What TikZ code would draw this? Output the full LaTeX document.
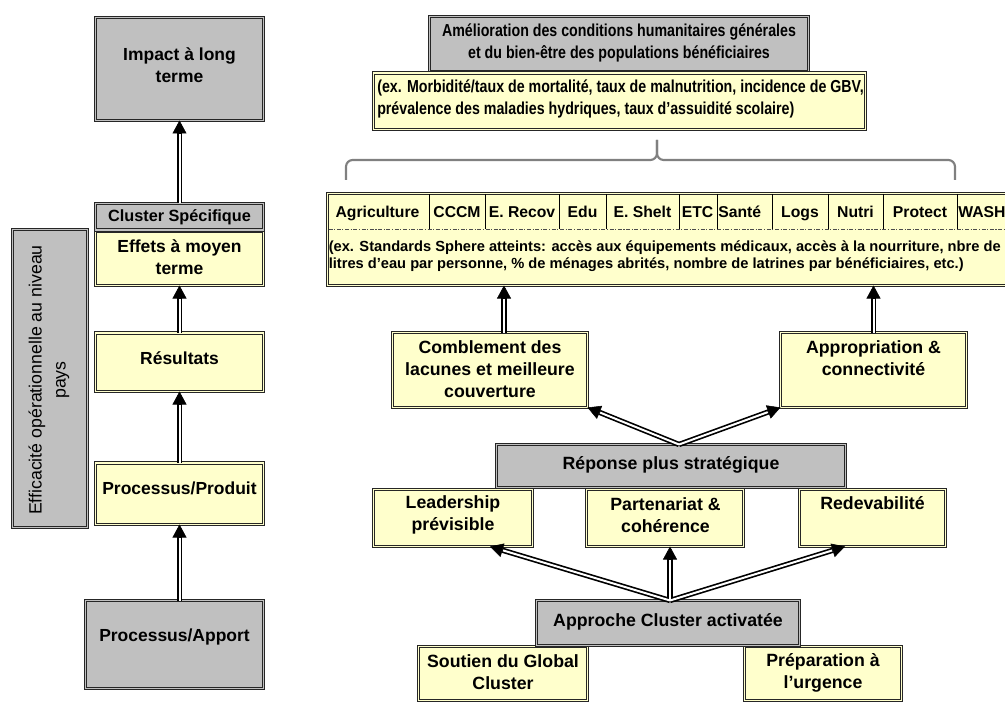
\documentclass[tikz,border=0pt]{standalone}
\usepackage{fontspec}
\setmainfont{Liberation Sans}
\newfontfamily\narrowsans{Liberation Sans}[FakeStretch=0.82]
\usetikzlibrary{arrows.meta,fit}
\definecolor{boxgrey}{HTML}{C0C0C0}
\definecolor{boxyellow}{HTML}{FFFFCC}
\definecolor{bracegrey}{HTML}{808080}
\tikzset{
  box/.style={rectangle, draw=black!85, line width=0.6pt, inner sep=0pt, outer sep=0pt},
  gbox/.style={box, fill=boxgrey, double=boxgrey, double distance=1.1pt},
  ybox/.style={box, fill=boxyellow, double=boxyellow, double distance=1.1pt},
  lefttxt/.style={font=\bfseries\fontsize{13.1pt}{16.1pt}\selectfont, align=center, inner sep=0pt},
  righttxt/.style={font=\bfseries\fontsize{13.3pt}{16.5pt}\selectfont, align=center, inner sep=0pt},
  toptxt/.style={font=\narrowsans\bfseries\fontsize{13pt}{16.5pt}\selectfont, inner sep=0pt},
  headtxt/.style={font=\bfseries\fontsize{11.8pt}{14pt}\selectfont, inner sep=0pt, anchor=base},
  desctxt/.style={font=\bfseries\fontsize{11pt}{12.75pt}\selectfont, align=left, inner sep=0pt, anchor=west},
  vtxt/.style={font=\fontsize{13.3pt}{18pt}\selectfont, align=center, inner sep=0pt, rotate=90},
  dblout/.style={line width=4pt, -{Triangle[length=9.75pt,width=10.5pt,line width=0.4pt]}},
  dblin/.style={draw=white, line width=1.5pt, shorten >=10.2pt},
  divider/.style={line width=0.7pt, black},
  sepline/.style={line width=0.6pt, black!70, dash pattern=on 3pt off 1.2pt on 0.8pt off 1.2pt},
  brace/.style={draw=bracegrey, line width=1.6pt, line join=round, rounded corners=5pt},
}
\begin{document}
\begin{tikzpicture}[x=0.75pt,y=-0.75pt]
\useasboundingbox (0,0) rectangle (1005,702);
\clip (0,0) rectangle (1005,702);
\fill[white] (0,0) rectangle (1005,702);

% ---------------- left column ----------------
\node[gbox, fit={(95.5,17.5) (263.5,120.5)}] (impact) {};
\node[ybox, fit={(95.5,231) (263.5,285.5)}] (effets) {};
\node[gbox, fit={(95.5,203.5) (263.5,230)}] (clsp) {};
\node[ybox, fit={(95.5,333) (263.5,391.5)}] (res) {};
\node[ybox, fit={(95.5,463) (263.5,524.5)}] (prod) {};
\node[gbox, fit={(85.5,600.5) (263.5,688.5)}] (apport) {};
\node[gbox, fit={(12.5,229.5) (87.5,527.5)}] (eff) {};

\node[lefttxt] (impact-t) at (179.5,65) {Impact à long\\terme};
\node[lefttxt, font=\bfseries\fontsize{12.2pt}{14pt}\selectfont] (clsp-t) at (179.5,217) {Cluster Spécifique};
\node[lefttxt] (effets-t) at (179.5,257) {Effets à moyen\\terme};
\node[lefttxt] (res-t) at (179.5,358) {Résultats};
\node[lefttxt] (prod-t) at (179.5,488) {Processus/Produit};
\node[lefttxt] (apport-t) at (174.5,637) {Processus/Apport};
\node[vtxt] (eff-t) at (49,380) {Efficacité opérationnelle au niveau\\pays};

\draw[dblout] (clsp.north) -- (impact.south);
\draw[dblout] (res.north) -- (effets.south);
\draw[dblout] (prod.north) -- (res.south);
\draw[dblout] (apport.north -| prod.south) -- (prod.south);
\draw[dblin] (clsp.north) -- (impact.south);
\draw[dblin] (res.north) -- (effets.south);
\draw[dblin] (prod.north) -- (res.south);
\draw[dblin] (apport.north -| prod.south) -- (prod.south);

% ---------------- top right ----------------
\node[gbox, fit={(429.5,16.5) (808.5,71.5)}] (amel) {};
\node[ybox, fit={(373.5,73) (865.5,129.5)}] (morb) {};
\node[toptxt, align=center] (amel-t) at (619,43) {Amélioration des conditions humanitaires générales\\et du bien-être des populations bénéficiaires};
\node[toptxt, align=left, anchor=west] (morb-t) at (377,99) {(ex. Morbidité/taux de mortalité, taux de malnutrition, incidence de GBV,\\prévalence des maladies hydriques, taux d’assuidité scolaire)};

\draw[brace] (346,180) -- (346,160) -- (657,160) -- (657,140);
\draw[brace] (955,180) -- (955,160) -- (657,160) -- (657,140);

% ---------------- cluster row ----------------
\node[ybox, fit={(327.5,193.5) (1015,285.5)}] (clu) {};
\draw[sepline] (328.5,229) -- (1005,229);
\foreach \x in {429,485,559,606,679,717,772,828,883,957}
  \draw[divider] (\x,194) -- (\x,229);
\node[headtxt] (h-agri) at (377.5,218) {Agriculture};
\node[headtxt] (h-cccm) at (457,218) {CCCM};
\node[headtxt] (h-erec) at (522,218) {E. Recov};
\node[headtxt] (h-edu) at (582.5,218) {Edu};
\node[headtxt] (h-esh) at (642.5,218) {E. Shelt};
\node[headtxt] (h-etc) at (697.5,218) {ETC};
\node[headtxt, anchor=base west] (h-sante) at (718,218) {Santé};
\node[headtxt] (h-logs) at (800,218) {Logs};
\node[headtxt] (h-nutri) at (855.5,218) {Nutri};
\node[headtxt] (h-prot) at (920,218) {Protect};
\node[headtxt, anchor=base west] (h-wash) at (958,218) {WASH};
\node[desctxt] (clu-d) at (328.5,256.5) {(ex. Standards Sphere atteints: accès aux équipements médicaux, accès à la nourriture, nbre de\\litres d’eau par personne, \% de ménages abrités, nombre de latrines par bénéficiaires, etc.)};

% ---------------- middle right ----------------
\node[ybox, fit={(392.5,332.5) (587.5,407.5)}] (comb) {};
\node[ybox, fit={(780.5,332.5) (966.5,407.5)}] (appr) {};
\node[righttxt] (comb-t) at (490,369) {Comblement des\\lacunes et meilleure\\couverture};
\node[righttxt] (appr-t) at (873.5,358) {Appropriation \&\\connectivité};

\node[ybox, fit={(373.5,489.5) (532.5,546.5)}] (lead) {};
\node[ybox, fit={(586.5,489.5) (743.5,546.5)}] (part) {};
\node[ybox, fit={(799.5,489.5) (945.5,546.5)}] (redev) {};
\node[gbox, fit={(496.5,444.5) (845.5,487.5)}] (rep) {};
\node[righttxt] (rep-t) at (671,465) {Réponse plus stratégique};
\node[righttxt] (lead-t) at (453,514.5) {Leadership\\prévisible};
\node[righttxt] (part-t) at (665.5,515) {Partenariat \&\\cohérence};
\node[righttxt] (redev-t) at (872.5,503) {Redevabilité};

\node[ybox, fit={(418.5,646.5) (587.5,700.5)}] (sout) {};
\node[ybox, fit={(744.5,646.5) (901.5,700.5)}] (prep) {};
\node[gbox, fit={(536.5,600.5) (799.5,645.5)}] (appro) {};
\node[righttxt] (appro-t) at (668,622) {Approche Cluster activatée};
\node[righttxt] (sout-t) at (503,672.5) {Soutien du Global\\Cluster};
\node[righttxt] (prep-t) at (823,672.5) {Préparation à\\l’urgence};

% connectors
\coordinate (combtop) at ([xshift=10.5pt]comb.north);
\coordinate (reptop) at ([xshift=6pt]rep.north);
\coordinate (approtop) at ([xshift=1.5pt]appro.north);
\coordinate (leadin) at ([xshift=27.75pt]lead.south);
\coordinate (redevin) at ([xshift=-20.6pt]redev.south);

\draw[dblout] (combtop) -- (combtop |- clu.south);
\draw[dblout] (appr.north) -- (appr.north |- clu.south);
\draw[dblout] (reptop) -- (comb.south east);
\draw[dblout] (reptop) -- (appr.south west);
\draw[dblout] (approtop) -- (leadin);
\draw[dblout] (approtop) -- (approtop |- part.south);
\draw[dblout] (approtop) -- (redevin);
\draw[dblin] (combtop) -- (combtop |- clu.south);
\draw[dblin] (appr.north) -- (appr.north |- clu.south);
\draw[dblin] (reptop) -- (comb.south east);
\draw[dblin] (reptop) -- (appr.south west);
\draw[dblin] (approtop) -- (leadin);
\draw[dblin] (approtop) -- (approtop |- part.south);
\draw[dblin] (approtop) -- (redevin);
\end{tikzpicture}
\end{document}
